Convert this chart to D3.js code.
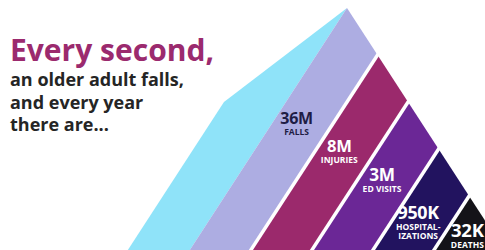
<!DOCTYPE html>
<html>
<head>
<meta charset="utf-8">
<script src="https://cdn.jsdelivr.net/npm/d3@7"></script>
<style>
  body { margin: 0; background: #fff; }
  svg { display: block; }
</style>
</head>
<body>
<svg id="chart"></svg>
<script>
var categories = ["Falls", "Injuries", "ED visits", "Hospitalizations", "Deaths"];
var values = [36000000, 8000000, 3000000, 950000, 32000];
var valueLabels = ["36M", "8M", "3M", "950K", "32K"];
var subLabels = [["FALLS"], ["INJURIES"], ["ED VISITS"], ["HOSPITAL-", "IZATIONS"], ["DEATHS"]];
var headline = "Every second,";
var introLines = ["an older adult falls,", "and every year", "there are..."];

var width = 485,
    height = 250;

var svg = d3.select("#chart")
    .attr("width", width)
    .attr("height", height);

var color = d3.scaleOrdinal()
    .domain(categories)
    .range(["#adade2", "#9b296c", "#6b2796", "#22135f", "#141318"]);

var labelColor = d3.scaleOrdinal()
    .domain(categories)
    .range(["#1e1c45", "#fff", "#fff", "#fff", "#fff"]);

// pyramid geometry: apex + slope of the sides, strips cut parallel to the left side
var apex = [347, 8],
    k = 1.54,
    bottom = height + 10;

// where each strip meets the right edge (y)
var band = d3.scaleBand()
    .domain(categories)
    .range([apex[1], apex[1] + 47 * categories.length]);

var labelY = d3.scalePoint()
    .domain(categories)
    .range([124, 237]);

var labelSize = d3.scaleLinear()
    .domain([0, categories.length - 1])
    .range([16, 18.5]);

function rightX(y) { return apex[0] + (y - apex[1]) / k; }
function cutX(y0, y) { return rightX(y0) - (y - y0) / k; }

// light blue side face
var sideOffset = 62;
var side = [
  [cutX(apex[1], bottom) - sideOffset, bottom],
  [cutX(apex[1], 102) - sideOffset, 102],
  apex,
  [cutX(apex[1], bottom), bottom]
];
svg.append("path")
    .attr("d", d3.line()(side) + "Z")
    .attr("fill", "#8fe3f9");

var strips = svg.append("g")
    .attr("class", "strips")
  .selectAll("path")
  .data(categories)
  .enter().append("path")
    .attr("d", function(d) {
      var y0 = band(d), y1 = y0 + band.bandwidth();
      return d3.line()([
        [rightX(y0), y0],
        [rightX(y1), y1],
        [cutX(y1, bottom), bottom],
        [cutX(y0, bottom), bottom]
      ]) + "Z";
    })
    .attr("fill", function(d) { return color(d); });

// white cuts between strips
svg.append("g")
    .attr("class", "cuts")
  .selectAll("line")
  .data(categories.slice(1))
  .enter().append("line")
    .attr("x1", function(d) { return rightX(band(d)) + 1; })
    .attr("y1", function(d) { return band(d) - 1.5; })
    .attr("x2", function(d) { return cutX(band(d), bottom); })
    .attr("y2", bottom)
    .attr("stroke", "#fff")
    .attr("stroke-width", 3.5);

// labels: blocks with more lines sit a little lower
var labels = svg.append("g")
    .attr("class", "labels")
    .attr("font-family", "'Open Sans', sans-serif")
    .attr("font-weight", 700)
    .attr("text-anchor", "middle")
  .selectAll("g")
  .data(categories)
  .enter().append("g")
    .attr("fill", function(d) { return labelColor(d); })
    .attr("transform", function(d, i) {
      var y = labelY(d) + (subLabels[i].length - 1) * 10;
      return "translate(" + (cutX(band(d), y - 6) + 21) + "," + y + ")";
    });

labels.append("text")
    .attr("font-size", function(d, i) { return labelSize(i); })
    .attr("letter-spacing", -0.3)
    .text(function(d, i) { return valueLabels[i]; });

labels.selectAll("text.sub")
  .data(function(d, i) { return subLabels[i]; })
  .enter().append("text")
    .attr("class", "sub")
    .attr("y", function(d, j) { return 11 + j * 9.5; })
    .attr("font-size", 8.5)
    .text(function(d) { return d; });

// headline text
var intro = svg.append("g")
    .attr("font-family", "'Open Sans', sans-serif")
    .attr("font-weight", 700);

intro.append("text")
    .attr("x", 10)
    .attr("y", 61)
    .attr("font-size", 30)
    .attr("fill", "#9b2a6e")
    .text(headline);

intro.selectAll("text.line")
  .data(introLines)
  .enter().append("text")
    .attr("class", "line")
    .attr("x", 10)
    .attr("y", function(d, i) { return 86 + i * 22.5; })
    .attr("font-size", 18)
    .attr("fill", "#252525")
    .text(function(d) { return d; });
</script>
</body>
</html>
